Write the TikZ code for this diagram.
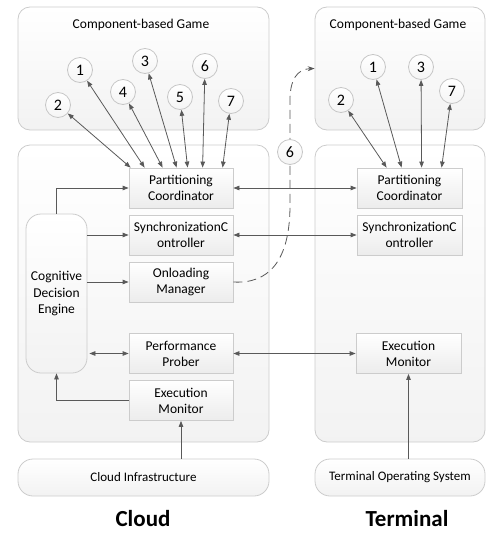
\documentclass[tikz,border=0pt]{standalone}
\usepackage{fontspec}
\setmainfont{Carlito}
\usetikzlibrary{arrows.meta}

\begin{document}
\begin{tikzpicture}[x=1pt,y=-1pt,
  >={Triangle[length=6pt,width=4.5pt]},
  every path/.style={line width=.8pt},
  area/.style={draw=gray!40,rounded corners=12pt,top color=white,bottom color=gray!10},
  block/.style={draw=gray!40,top color=white,bottom color=gray!15,minimum width=104pt,minimum height=40pt,inner sep=1pt,align=center,font=\fontsize{13.5}{16}\selectfont},
  num/.style={circle,draw=gray!45,top color=white,bottom color=gray!8,minimum size=25pt,inner sep=0pt,font=\fontsize{16}{18}\selectfont},
  link/.style={black!65}]
\useasboundingbox (0,0) rectangle (487,533);

% the two games
\node (G1) [area,minimum width=251pt,minimum height=123pt] at (143.5,68.5) {};
\node (G2) [area,minimum width=170pt,minimum height=123pt] at (400,68.5) {};
\node (T1) at (141,25) {\fontsize{13.5}{16}\selectfont Component-based Game};
\node (T2) at (398,25) {\fontsize{13.5}{16}\selectfont Component-based Game};

% cloud side and terminal side
\node (M1) [area,minimum width=251pt,minimum height=297pt] at (143.5,293.5) {};
\node (M2) [area,minimum width=170pt,minimum height=297pt] at (400,293.5) {};
\node (CI) [area,rounded corners=15pt,minimum width=251pt,minimum height=37pt,font=\fontsize{13}{16}\selectfont] at (143.5,477.5) {Cloud Infrastructure};
\node (TOS) [area,rounded corners=15pt,minimum width=170pt,minimum height=37pt,font=\fontsize{13}{16}\selectfont] at (400,477.5) {Terminal Operating System};

\node (CDE) [area,rounded corners=15pt,minimum width=61pt,minimum height=159pt,align=center,font=\fontsize{13.5}{16.5}\selectfont] at (56.5,293.5) {Cognitive\\Decision\\Engine};
\node (PC1) [block] at (181,188) {Partitioning\\Coordinator};
\node (SC1) [block] at (181,235) {SynchronizationC\\ontroller};
\node (OM1) [block] at (181,282) {Onloading\\Manager};
\node (PP1) [block] at (181,353.5) {Performance\\Prober};
\node (EM1) [block] at (181,400.5) {Execution\\Monitor};

\node (PC2) [block,minimum width=105pt] at (409.5,188) {Partitioning\\Coordinator};
\node (SC2) [block,minimum width=105pt] at (409.5,235) {SynchronizationC\\ontroller};
\node (EM2) [block,minimum width=105pt] at (408.5,353.5) {Execution\\Monitor};

\node (Cloud) at (143,519) {\fontsize{23}{26}\selectfont\bfseries Cloud};
\node (Term) at (407,519) {\fontsize{23}{26}\selectfont\bfseries Terminal};

% components
\foreach \n/\x/\y in {1/80/70,2/58/105,3/145/61,4/123/92,5/180/97,6/205/66,7/231/101}
  \node (L\n) [num] at (\x,\y) {\n};
\foreach \n/\x/\y in {1/373/67,2/341/100,3/421/67,7/452/91}
  \node (R\n) [num] at (\x,\y) {\n};

\foreach \n/\s in {2/2,1/16,4/34,3/48,5/59,6/74,7/94}
  \draw[link,<->] (L\n) -- ([xshift=\s pt]PC1.north west);
\foreach \n/\s in {2/30,1/45,3/65,7/85}
  \draw[link,<->] (R\n) -- ([xshift=\s pt]PC2.north west);

\draw[link,<->] (PC1.east) -- (PC2.west);
\draw[link,<->] (SC1.east) -- (SC2.west);
\draw[link,<->] (PP1.east) -- (EM2.west);

\draw[link,->] (CDE.north) |- (PC1.west);
\draw[link,->] (CDE.east |- SC1) -- (SC1.west);
\draw[link,->] (CDE.east |- OM1) -- (OM1.west);
\draw[link,<->] ([xshift=2pt]CDE.east |- PP1) -- (PP1.west);
\draw[link,->] (EM1.west) -| (CDE.south);
\draw[link,->] (CI.north -| EM1) -- (EM1.south);
\draw[link,->] (TOS.north -| EM2) -- (EM2.south);

% onloading path
\draw[link,dash pattern=on 9pt off 5pt,-{Stealth[length=7pt,width=5pt]}] (OM1.east) .. controls (268,284) and (290,262) .. (290,205) -- (290,100) .. controls (290,80) and (297,69) .. (G2.west);
\node (M6) [num] at (290,152) {6};
\end{tikzpicture}
\end{document}
